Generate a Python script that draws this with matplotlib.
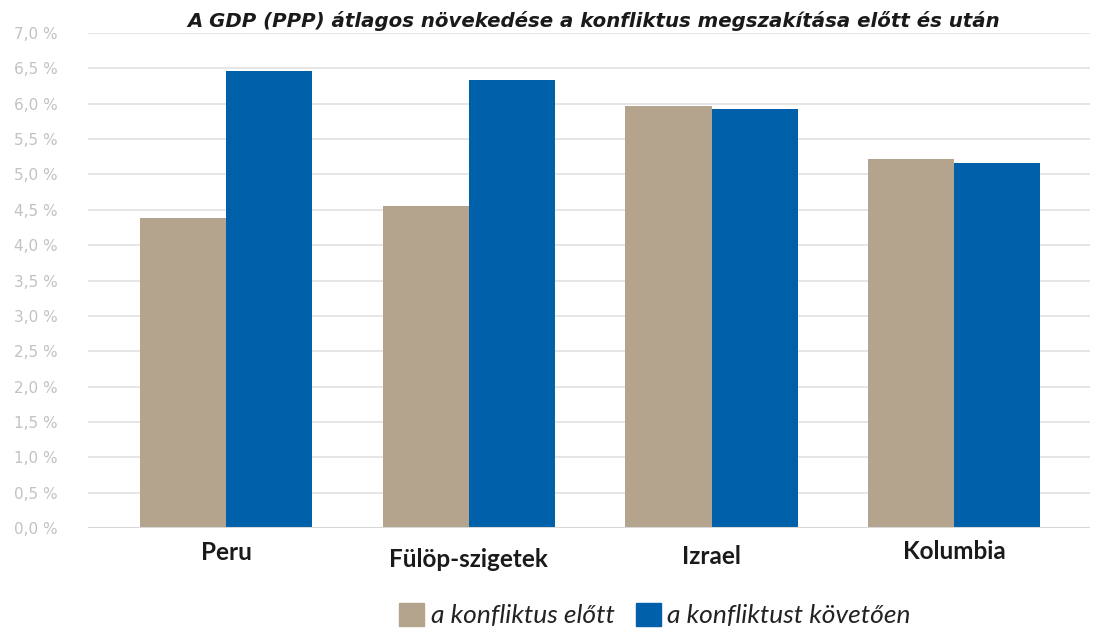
import matplotlib
matplotlib.use("Agg")
import matplotlib.pyplot as plt
import numpy as np
from matplotlib.patches import Patch

categories = ["Peru", "Fülöp-szigetek", "Izrael", "Kolumbia"]
before = [4.38, 4.56, 5.97, 5.22]
after = [6.46, 6.34, 5.93, 5.16]
series_names = ["a konfliktus előtt", "a konfliktust követően"]
title = "A GDP (PPP) átlagos növekedése a konfliktus megszakítása előtt és után"
yticks = [0.0, 0.5, 1.0, 1.5, 2.0, 2.5, 3.0, 3.5, 4.0, 4.5, 5.0, 5.5, 6.0, 6.5, 7.0]

c_before = "#B4A48E"
c_after = "#0060AA"

fig = plt.figure(figsize=(10.94, 6.30), dpi=100)
ax = fig.add_axes([88/1094, 1 - 528/630, (1090-88)/1094, (528-33)/630])

x = np.arange(len(categories))
w = 0.355
ax.bar(x - w/2, before, width=w, color=c_before, zorder=3)
ax.bar(x + w/2, after, width=w, color=c_after, zorder=3)

ax.set_xlim(-0.57, 3.56)
ax.set_ylim(0, 7.0)
ax.set_yticks(yticks)
ax.set_yticklabels([f"{v:.1f} %".replace(".", ",") for v in yticks],
                   color="#c2c2c2", fontsize=11, family="DejaVu Sans")
ax.tick_params(axis="y", length=0, pad=22)
ax.set_xticks([])
ax.grid(axis="y", color="#e2e2e2", linewidth=1.2, zorder=0)
for s in ax.spines.values():
    s.set_visible(False)
ax.axhline(0, color="#d8d8d8", linewidth=1.5, zorder=4)

label_y = [0.35, 0.44, 0.40, 0.33]
for xi, lab, ly in zip(x, categories, label_y):
    ax.text(xi, -ly, lab, ha="center", va="center", fontsize=17.5,
            fontweight="bold", color="#1a1a1a", family="Lato")

fig.text(594/1094, 1 - 21/630, title, ha="center", va="center", fontsize=14.2,
         fontweight="bold", fontstyle="italic", color="#1a1a1a", family="DejaVu Sans")

handles = [Patch(color=c_before), Patch(color=c_after)]
leg = fig.legend(handles, series_names, loc="center", bbox_to_anchor=(655/1094, 1 - 615/630),
                 ncol=2, frameon=False, prop={"style": "italic", "size": 19, "family": "Lato"},
                 handlelength=0.95, handleheight=1.0, handletextpad=0.25, columnspacing=0.8)
for t in leg.get_texts():
    t.set_color("#222222")

fig.savefig("out.png", dpi=100)
